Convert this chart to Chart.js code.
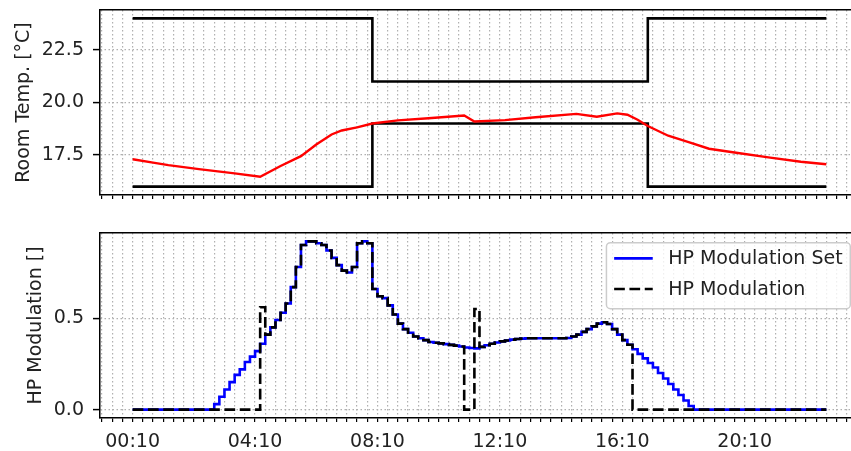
<!DOCTYPE html>
<html>
<head>
<meta charset="utf-8">
<script src="https://cdn.jsdelivr.net/npm/chart.js@4.4.0/dist/chart.umd.min.js"></script>
<style>
  html, body { margin: 0; padding: 0; overflow: hidden; background: #fff; width: 851px; height: 451px; }
  canvas { display: block; }
</style>
</head>
<body>
<canvas id="temp" width="860" height="205"></canvas>
<canvas id="mod" width="860" height="246"></canvas>
<script>
// times are minutes after midnight
const tempTimes = [10, 50, 80, 140, 210, 260, 300, 340, 370, 400, 420, 450, 480, 530, 590, 660,
  680, 740, 800, 880, 920, 960, 980, 1000, 1020, 1060, 1100, 1140, 1190, 1260, 1320, 1370];
const roomTemp = [17.3, 17.14, 17.02, 16.83, 16.63, 16.47, 16.98, 17.45, 18.0, 18.48, 18.67, 18.82, 19.0, 19.15, 19.25, 19.38,
  19.1, 19.16, 19.3, 19.46, 19.32, 19.48, 19.42, 19.18, 18.88, 18.42, 18.12, 17.8, 17.62, 17.38, 17.18, 17.06];

const boundTimes = [10, 480, 1020, 1370];
const upperBound = [24, 21, 24, 24];
const lowerBound = [16, 19, 16, 16];

// modulation sampled every 10 min from 00:10
const modStart = 10;
const modStep = 10;
const modSet = [
  0, 0, 0, 0, 0, 0, 0, 0, 0, 0, 0, 0, 0, 0, 0, 0,
  0.03, 0.07, 0.11, 0.15, 0.19, 0.22, 0.26, 0.29, 0.32, 0.36,
  0.41, 0.45, 0.49, 0.53, 0.58, 0.67, 0.78, 0.90, 0.92, 0.92,
  0.91, 0.90, 0.87, 0.83, 0.79, 0.76, 0.75, 0.78, 0.91, 0.92,
  0.91, 0.66, 0.62, 0.61, 0.57, 0.52, 0.47, 0.44, 0.42, 0.40,
  0.39, 0.38, 0.37, 0.366, 0.362, 0.358, 0.354, 0.35, 0.345, 0.34,
  0.337, 0.335, 0.343, 0.352, 0.36, 0.367, 0.373, 0.378, 0.383, 0.386,
  0.388, 0.39, 0.39, 0.39, 0.39, 0.39, 0.39, 0.39, 0.39, 0.392,
  0.40, 0.41, 0.425, 0.44, 0.455, 0.47, 0.478, 0.468, 0.44, 0.41,
  0.38, 0.355, 0.33, 0.305, 0.28, 0.255, 0.23, 0.20, 0.17, 0.14,
  0.11, 0.08, 0.05, 0.02,
  0, 0, 0, 0, 0, 0, 0, 0, 0, 0, 0, 0, 0, 0, 0, 0, 0, 0, 0, 0, 0, 0, 0, 0, 0, 0, 0
];
const modActual = [
  0, 0, 0, 0, 0, 0, 0, 0, 0, 0, 0, 0, 0, 0, 0, 0,
  0, 0, 0, 0, 0, 0, 0, 0, 0, 0.56,
  0.41, 0.45, 0.49, 0.53, 0.58, 0.67, 0.78, 0.90, 0.92, 0.92,
  0.91, 0.90, 0.87, 0.83, 0.79, 0.76, 0.75, 0.78, 0.91, 0.92,
  0.91, 0.66, 0.62, 0.61, 0.57, 0.52, 0.47, 0.44, 0.42, 0.40,
  0.39, 0.38, 0.37, 0.366, 0.362, 0.358, 0.354, 0.35, 0.345, 0,
  0, 0.55, 0.343, 0.352, 0.36, 0.367, 0.373, 0.378, 0.383, 0.386,
  0.388, 0.39, 0.39, 0.39, 0.39, 0.39, 0.39, 0.39, 0.39, 0.392,
  0.40, 0.41, 0.425, 0.44, 0.455, 0.47, 0.478, 0.468, 0.44, 0.41,
  0.38, 0.355, 0, 0, 0, 0, 0, 0, 0, 0,
  0, 0, 0, 0,
  0, 0, 0, 0, 0, 0, 0, 0, 0, 0, 0, 0, 0, 0, 0, 0, 0, 0, 0, 0, 0, 0, 0, 0, 0, 0, 0
];

const timeLabels = [10, 250, 490, 730, 970, 1210];
const tempTicks = [17.5, 20, 22.5];
const modTicks = [0, 0.5];

const xMin = -54, xMax = 1436;

Chart.defaults.font.family = 'DejaVu Sans';
Chart.defaults.font.size = 19;
Chart.defaults.color = '#222';
Chart.defaults.animation = false;

const gridColor = '#b0b0b0';

function hhmm(m) {
  return String(Math.floor(m / 60)).padStart(2, '0') + ':' + String(m % 60).padStart(2, '0');
}

function xAxis(showLabels, axisHeight) {
  return {
    type: 'linear', min: xMin, max: xMax,
    afterBuildTicks: s => {
      const t = [];
      for (let m = 10 - 60; m <= xMax; m += 20) t.push({value: m});
      s.ticks = t;
    },
    afterFit: s => { s.height = axisHeight; s.paddingLeft = 0; s.paddingRight = 0; },
    ticks: {
      display: showLabels, autoSkip: false, maxRotation: 0, padding: 9,
      callback: v => timeLabels.includes(v) ? hhmm(v) : ''
    },
    grid: { color: gridColor, lineWidth: 1.2, tickLength: 4, tickColor: '#000', tickWidth: 1.2 },
    border: { display: true, color: '#000', width: 1.5, dash: [1.5, 2.5] }
  };
}

function yAxis(title, tickVals, min, max, titlePad) {
  return {
    type: 'linear', min: min, max: max,
    afterBuildTicks: s => { s.ticks = tickVals.map(v => ({value: v})); },
    afterFit: s => { s.width = 100; s.paddingTop = 0; s.paddingBottom = 0; },
    ticks: { padding: 9, callback: v => v.toFixed(1) },
    grid: { color: gridColor, lineWidth: 1.2, tickLength: 7, tickColor: '#000', tickWidth: 1.5 },
    border: { display: true, color: '#000', width: 1.5, dash: [1.5, 2.5] },
    title: { display: true, text: title, padding: {top: titlePad, bottom: 0} }
  };
}

const frameTop = {
  type: 'linear', position: 'top', display: true,
  afterFit: s => { s.height = 0; s.paddingLeft = 0; s.paddingRight = 0; },
  ticks: { display: false },
  grid: { display: false, drawTicks: false },
  border: { display: true, color: '#000', width: 1.5 }
};

function pts(times, vals) {
  return vals.map((v, i) => ({x: times[i], y: v}));
}

new Chart('temp', {
  type: 'line',
  data: {
    datasets: [
      { label: 'Room Temp.', data: pts(tempTimes, roomTemp), borderColor: '#ff0000', borderWidth: 2.4, pointRadius: 0 },
      { label: 'Upper', data: pts(boundTimes, upperBound), borderColor: '#000', borderWidth: 2.6, pointRadius: 0, stepped: 'before' },
      { label: 'Lower', data: pts(boundTimes, lowerBound), borderColor: '#000', borderWidth: 2.6, pointRadius: 0, stepped: 'before' }
    ]
  },
  options: {
    responsive: false,
    layout: { padding: {top: 10, bottom: 6, left: 0, right: 0} },
    plugins: { legend: { display: false }, tooltip: { enabled: false } },
    scales: {
      x: xAxis(false, 4),
      x2: frameTop,
      y: yAxis('Room Temp. [°C]', tempTicks, 15.6, 24.4, 13)
    }
  }
});

const legendBox = {
  id: 'legendBox',
  afterDraw(chart) {
    const ctx = chart.ctx, area = chart.chartArea;
    const pad = 7.7, handle = 38.6, gap = 15.4, rowH = 30.6;
    ctx.save();
    ctx.font = '19px "DejaVu Sans"';
    const items = chart.data.datasets;
    const textW = Math.max(...items.map(d => ctx.measureText(d.label).width));
    const w = pad + handle + gap + textW + pad;
    const h = 66;
    const x0 = area.right - 9.7 - w, y0 = area.top + 9.7;
    ctx.beginPath();
    ctx.roundRect(x0, y0, w, h, 4);
    ctx.fillStyle = 'rgba(255,255,255,0.8)';
    ctx.fill();
    ctx.strokeStyle = '#cccccc';
    ctx.lineWidth = 1.5;
    ctx.stroke();
    items.forEach((d, i) => {
      const cy = y0 + 15.7 + i * rowH;
      ctx.beginPath();
      ctx.setLineDash(d.borderDash || []);
      ctx.strokeStyle = d.borderColor;
      ctx.lineWidth = d.borderWidth;
      ctx.moveTo(x0 + pad, cy);
      ctx.lineTo(x0 + pad + handle, cy);
      ctx.stroke();
      ctx.setLineDash([]);
      ctx.fillStyle = '#222';
      ctx.textBaseline = 'middle';
      ctx.fillText(d.label, x0 + pad + handle + gap, cy + 1);
    });
    ctx.restore();
  }
};

new Chart('mod', {
  type: 'line',
  data: {
    datasets: [
      { label: 'HP Modulation Set', data: pts(modSet.map((v, i) => modStart + i * modStep), modSet),
        borderColor: '#0000ff', borderWidth: 2.6, pointRadius: 0, stepped: 'before', order: 1 },
      { label: 'HP Modulation', data: pts(modActual.map((v, i) => modStart + i * modStep), modActual),
        borderColor: '#000', borderWidth: 2.6, borderDash: [10.7, 4.6], pointRadius: 0, stepped: 'before', order: 0 }
    ]
  },
  options: {
    responsive: false,
    layout: { padding: {top: 28, bottom: 0, left: 0, right: 0} },
    plugins: { legend: { display: false }, tooltip: { enabled: false } },
    scales: {
      x: xAxis(true, 33),
      x2: frameTop,
      y: yAxis('HP Modulation []', modTicks, -0.046, 0.966, 25)
    }
  },
  plugins: [legendBox]
});
</script>
</body>
</html>
